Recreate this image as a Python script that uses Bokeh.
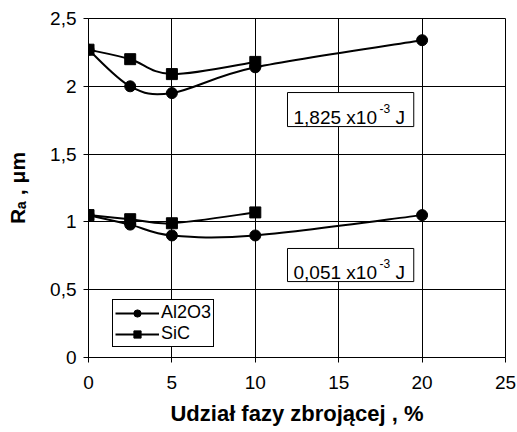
import math
from bokeh.plotting import figure
from bokeh.models import (Range1d, Label, BoxAnnotation, Legend, LegendItem,
                          CustomJSTickFormatter, FixedTicker, ColumnDataSource)
from bokeh.embed import file_html
from bokeh.resources import INLINE

# ---- data ----
x_al = [0, 2.5, 5, 10, 20]
al_high = [2.27, 2.00, 1.95, 2.14, 2.34]
al_low = [1.05, 0.98, 0.90, 0.90, 1.05]
x_sic = [0, 2.5, 5, 10]
sic_high = [2.27, 2.20, 2.09, 2.18]
sic_low = [1.05, 1.02, 0.99, 1.07]
x_ticks = [0, 5, 10, 15, 20, 25]
y_ticks = [0, 0.5, 1, 1.5, 2, 2.5]
series_names = ["Al2O3", "SiC"]
energy_labels = ["1,825 x10", "0,051 x10"]
x_title = "Udział fazy zbrojącej , %"
y_title = "Rₐ , μm"

FONT = "Liberation Sans"


def smooth_segments(xs, ys):
    """Excel-like smoothed line: cubic Bezier segments through the data points."""
    n = len(xs)
    d = dict(x0=[], y0=[], x1=[], y1=[], cx0=[], cy0=[], cx1=[], cy1=[])
    for i in range(n - 1):
        a = i - 1 if i > 0 else i
        b = i + 2 if i + 2 < n else i + 1
        d["x0"].append(xs[i]); d["y0"].append(ys[i])
        d["x1"].append(xs[i + 1]); d["y1"].append(ys[i + 1])
        d["cx0"].append(xs[i] + (xs[i + 1] - xs[a]) / 6.0)
        d["cy0"].append(ys[i] + (ys[i + 1] - ys[a]) / 6.0)
        d["cx1"].append(xs[i + 1] - (xs[b] - xs[i]) / 6.0)
        d["cy1"].append(ys[i + 1] - (ys[b] - ys[i]) / 6.0)
    return ColumnDataSource(d)


p = figure(width=517, height=432, x_range=Range1d(0, 25), y_range=Range1d(0, 2.5),
           output_backend="svg", toolbar_location=None,
           min_border_left=88, min_border_right=12, min_border_top=18, min_border_bottom=75)
p.background_fill_color = "white"
p.border_fill_color = "white"
p.outline_line_color = "black"
p.outline_line_alpha = 1
p.outline_line_width = 1

for ax in (p.xaxis, p.yaxis):
    ax.axis_line_color = "black"
    ax.major_tick_line_color = "black"
    ax.major_tick_out = 5
    ax.major_tick_in = 0
    ax.minor_tick_line_color = None
    ax.major_label_text_font = FONT
    ax.major_label_text_font_size = "19px"
    ax.major_label_text_color = "black"
    ax.axis_label_text_font = FONT
    ax.axis_label_text_font_style = "bold"
    ax.axis_label_text_color = "black"

p.xaxis.ticker = FixedTicker(ticks=x_ticks)
p.yaxis.ticker = FixedTicker(ticks=y_ticks)
p.yaxis.formatter = CustomJSTickFormatter(code="return tick.toString().replace('.', ',');")
p.xaxis.major_label_standoff = 13
p.yaxis.major_label_standoff = 7

p.xaxis.axis_label = x_title
p.xaxis.axis_label_text_font_size = "22px"
p.xaxis.axis_label_standoff = 9
p.xaxis.axis_label_text_baseline = "middle"
p.yaxis.axis_label = y_title
p.yaxis.axis_label_text_font_size = "21px"
p.yaxis.axis_label_standoff = 18

for g in (p.xgrid, p.ygrid):
    g.grid_line_color = "black"
    g.grid_line_alpha = 1
    g.grid_line_width = 1
p.xgrid.ticker = FixedTicker(ticks=x_ticks)
p.ygrid.ticker = FixedTicker(ticks=y_ticks)

# ---- curves ----
legend_renderers = {"Al2O3": [], "SiC": []}
for ys in (al_high, al_low):
    r = p.bezier(x0="x0", y0="y0", x1="x1", y1="y1", cx0="cx0", cy0="cy0",
                 cx1="cx1", cy1="cy1", source=smooth_segments(x_al, ys),
                 line_color="black", line_width=2)
    s = p.scatter(x_al, ys, marker="circle", size=11, fill_color="black", line_color="black")
    if not legend_renderers["Al2O3"]:
        legend_renderers["Al2O3"] = [r, s]
for ys in (sic_high, sic_low):
    r = p.bezier(x0="x0", y0="y0", x1="x1", y1="y1", cx0="cx0", cy0="cy0",
                 cx1="cx1", cy1="cy1", source=smooth_segments(x_sic, ys),
                 line_color="black", line_width=2)
    s = p.scatter(x_sic, ys, marker="square", size=11, fill_color="black", line_color="black")
    if not legend_renderers["SiC"]:
        legend_renderers["SiC"] = [r, s]

legend = Legend(items=[LegendItem(label=n, renderers=legend_renderers[n]) for n in series_names],
                location=(24, 10), orientation="vertical")
legend.border_line_color = "black"
legend.border_line_width = 1
legend.border_line_alpha = 1
legend.background_fill_color = "white"
legend.background_fill_alpha = 1
legend.padding = 2
legend.margin = 0
legend.spacing = 0
legend.glyph_width = 44
legend.glyph_height = 18
legend.label_height = 18
legend.label_standoff = 2
legend.label_text_font = FONT
legend.label_text_font_size = "18px"
legend.label_text_color = "black"
legend.label_text_baseline = "middle"
p.add_layout(legend)

# ---- energy boxes ----
boxes = [
    dict(left=11.93, right=19.5, top=1.954, bottom=1.703, tx=12.29, ty=1.772),
    dict(left=11.93, right=19.5, top=0.804, bottom=0.560, tx=12.29, ty=0.627),
]
for b, txt in zip(boxes, energy_labels):
    p.add_layout(BoxAnnotation(left=b["left"], right=b["right"], top=b["top"], bottom=b["bottom"],
                               fill_color="white", fill_alpha=1, line_color="black",
                               line_width=1, line_alpha=1))
    p.add_layout(Label(x=b["tx"], y=b["ty"], text=txt, text_font=FONT, text_font_size="19px",
                       text_color="black", text_baseline="alphabetic", text_align="left"))
    p.add_layout(Label(x=b["tx"], y=b["ty"], x_offset=86, y_offset=9, text="-3", text_font=FONT,
                       text_font_size="12px", text_color="black", text_baseline="alphabetic"))
    p.add_layout(Label(x=b["tx"], y=b["ty"], x_offset=102, text="J", text_font=FONT,
                       text_font_size="19px", text_color="black", text_baseline="alphabetic"))

open("out.html", "w").write(file_html(p, INLINE))
